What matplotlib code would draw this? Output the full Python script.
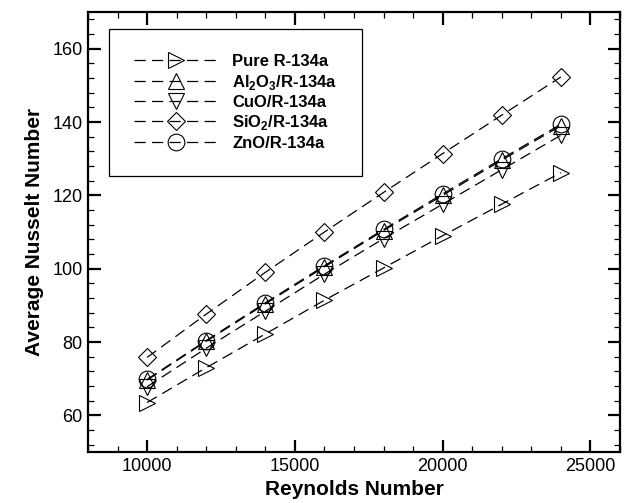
import numpy as np
import matplotlib
matplotlib.use("Agg")
import matplotlib.pyplot as plt
from matplotlib.ticker import MultipleLocator

plt.rcParams['font.family'] = ['Liberation Sans', 'DejaVu Sans']
plt.rcParams['mathtext.fontset'] = 'custom'
plt.rcParams['mathtext.rm'] = 'Liberation Sans:bold'
plt.rcParams['mathtext.bf'] = 'Liberation Sans:bold'

# data
reynolds = [10000, 12000, 14000, 16000, 18000, 20000, 22000, 24000]
nu_pure = [63.5, 73.0, 82.2, 91.4, 100.2, 109.0, 117.6, 126.2]
nu_al2o3 = [69.6, 80.2, 90.4, 100.5, 110.4, 120.0, 129.6, 139.0]
nu_cuo = [67.8, 78.3, 88.4, 98.5, 108.2, 117.6, 127.0, 136.4]
nu_sio2 = [75.8, 87.6, 99.0, 110.0, 120.8, 131.4, 141.9, 152.3]
nu_zno = [69.8, 80.4, 90.7, 100.8, 110.7, 120.4, 130.0, 139.4]

labels = ['Pure R-134a', r'Al$_2$O$_3$/R-134a', 'CuO/R-134a',
          r'SiO$_2$/R-134a', 'ZnO/R-134a']
series = [nu_pure, nu_al2o3, nu_cuo, nu_sio2, nu_zno]
markers = ['>', '^', 'v', 'D', 'o']
msizes = [11, 11, 11, 9, 12]

fig = plt.figure(figsize=(6.25, 5.03), dpi=100)
ax = fig.add_axes([0.1408, 0.1014, 0.8512, 0.8746])

for y, lab, m, ms in zip(series, labels, markers, msizes):
    ax.plot(reynolds, y, color='black', linewidth=0.9, dashes=(9, 5),
            marker=m, markersize=ms, markerfacecolor='none',
            markeredgecolor='black', markeredgewidth=0.8, label=lab)

ax.set_xlim(8000, 26000)
ax.set_ylim(50, 170)
ax.xaxis.set_major_locator(MultipleLocator(5000))
ax.xaxis.set_minor_locator(MultipleLocator(1000))
ax.yaxis.set_major_locator(MultipleLocator(20))
ax.yaxis.set_minor_locator(MultipleLocator(4))
ax.set_yticks([60, 80, 100, 120, 140, 160])

ax.tick_params(which='both', direction='in', top=True, right=True)
ax.tick_params(which='major', length=9, width=1.6, labelsize=13, pad=4)
ax.tick_params(which='minor', length=4.5, width=0.9)
for sp in ax.spines.values():
    sp.set_linewidth(1.6)

ax.set_xlabel('Reynolds Number', fontsize=15, fontweight='bold', labelpad=4)
ax.set_ylabel('Average Nusselt Number', fontsize=15, fontweight='bold', labelpad=6)

leg = ax.legend(loc='upper left', bbox_to_anchor=(0.0395, 0.961),
                borderaxespad=0, fancybox=False, framealpha=1,
                edgecolor='black', handlelength=5.0, handletextpad=0.9,
                labelspacing=0.2, borderpad=1.5,
                prop={'weight': 'bold', 'size': 12})
leg.get_frame().set_linewidth(0.9)

fig.savefig('out.png', dpi=100)
